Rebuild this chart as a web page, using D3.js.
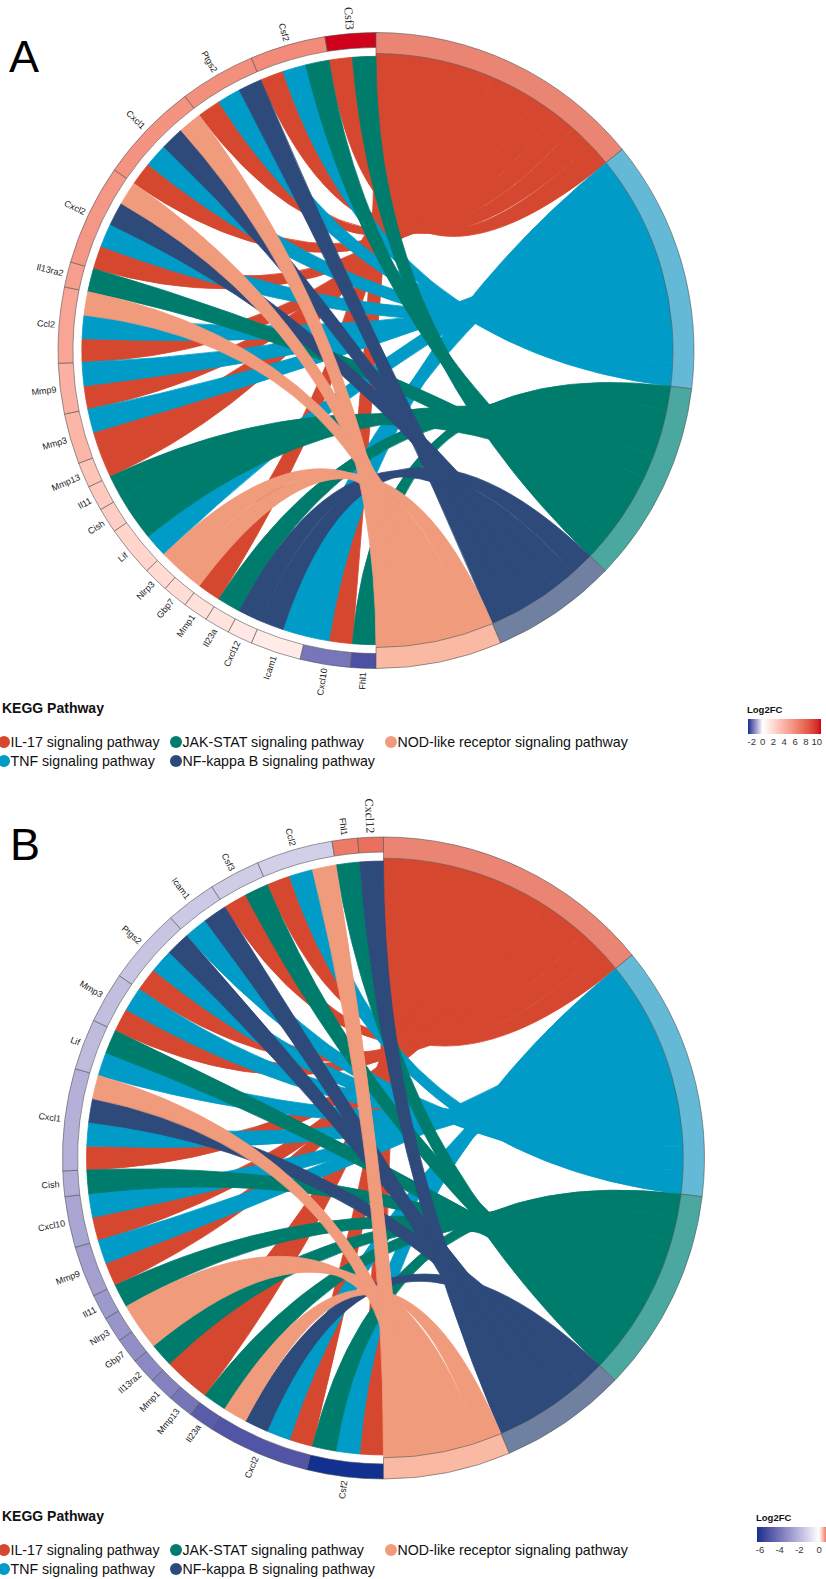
<!DOCTYPE html>
<html>
<head>
<meta charset="utf-8">
<script src="https://cdn.jsdelivr.net/npm/d3@7"></script>
<style>
  body { margin: 0; background: #fff; }
  svg { display: block; }
</style>
</head>
<body>
<svg id="chart" width="826" height="1579"></svg>
<script>
// ---- data ----------------------------------------------------------------
const pathways = [
  "IL-17 signaling pathway",
  "TNF signaling pathway",
  "JAK-STAT signaling pathway",
  "NF-kappa B signaling pathway",
  "NOD-like receptor signaling pathway"
];
const pathwayColors = ["#D5472E", "#009CC7", "#007C6D", "#2E4A7B", "#F09B7B"];
const pathwayRingColors = ["#EA8574", "#63B9D6", "#4AA8A0", "#7080A0", "#F9B9A2"];

// genes annotated to each pathway
const il17Genes = ["Cxcl10", "Mmp1", "Mmp13", "Mmp3", "Mmp9", "Ccl2", "Cxcl2", "Cxcl1", "Ptgs2", "Csf2", "Csf3"];
const tnfGenes  = ["Cxcl10", "Icam1", "Lif", "Mmp3", "Mmp9", "Ccl2", "Cxcl2", "Cxcl1", "Ptgs2", "Csf2"];
const jakGenes  = ["Fhl1", "Il23a", "Lif", "Cish", "Il11", "Il13ra2", "Csf2", "Csf3"];
const nfkbGenes = ["Icam1", "Cxcl12", "Cxcl2", "Cxcl1", "Ptgs2"];
const nodGenes  = ["Gbp7", "Nlrp3", "Ccl2", "Cxcl2", "Cxcl1"];
const pathwayGenes = [il17Genes, tnfGenes, jakGenes, nfkbGenes, nodGenes];

// panel A (clockwise from the bottom of the circle)
const genesA = ["Fhl1", "Cxcl10", "Icam1", "Cxcl12", "Il23a", "Mmp1", "Gbp7", "Nlrp3", "Lif", "Cish",
  "Il11", "Mmp13", "Mmp3", "Mmp9", "Ccl2", "Il13ra2", "Cxcl2", "Cxcl1", "Ptgs2", "Csf2", "Csf3"];
const log2fcA = [-2.2, -1.7, 1.0, 1.2, 1.4, 1.6, 1.8, 1.9, 2.2, 2.6,
  2.8, 3.1, 3.8, 4.1, 4.7, 5.0, 5.4, 5.6, 5.8, 6.0, 10.8];
const fcDomainA = [-2.7, 0, 10.8];
const ticksA = [-2, 0, 2, 4, 6, 8, 10];

// panel B
const genesB = ["Csf2", "Cxcl2", "Il23a", "Mmp13", "Mmp1", "Il13ra2", "Gbp7", "Nlrp3", "Il11", "Mmp9",
  "Cxcl10", "Cish", "Cxcl1", "Lif", "Mmp3", "Ptgs2", "Icam1", "Csf3", "Ccl2", "Fhl1", "Cxcl12"];
const log2fcB = [-6.3, -5.0, -4.8, -4.0, -3.6, -3.4, -3.2, -3.0, -2.9, -2.7,
  -2.5, -2.3, -2.2, -1.9, -1.8, -1.6, -1.5, -1.4, -1.3, 0.7, 0.75];
const fcDomainB = [-6.3, 0, 1.1];
const ticksB = [-6, -4, -2, 0];

// ---- drawing -------------------------------------------------------------
const svg = d3.select("#chart");
svg.append("rect").attr("width", 826).attr("height", 1579).attr("fill", "#fff");
const defs = svg.append("defs");

function drawPanel(cfg) {
  const { genes, fc, fcDomain, ticks, cx, cy, R, letter, letterX, letterY, legendTop, barX, id } = cfg;

  const color = d3.scaleLinear()
    .domain(fcDomain)
    .range(["#12308F", "#FFFFFF", "#D0021B"])
    .interpolate(d3.interpolateLab);

  const member = genes.map(g => pathways.map((p, i) => i).filter(i => pathwayGenes[i].includes(g)));
  const total = d3.sum(member, m => m.length);
  const unit = d3.scaleLinear().domain([0, total]).range([0, Math.PI]);

  // gene sectors occupy the left half, pathways the right half
  let u = 0;
  const geneArcs = genes.map((g, i) => {
    const s = u; u += member[i].length;
    return { gene: g, i, s, e: u };
  });
  const links = [];
  geneArcs.forEach(ga => member[ga.i].forEach((p, k) => links.push({ gene: ga.i, p, gu: ga.s + k })));

  // inside a pathway sector, links follow the gene order around the circle
  let pu = 0;
  const pathArcs = pathways.map((name, i) => {
    const ls = links.filter(l => l.p === i).sort((a, b) => a.gu - b.gu);
    const s = pu;
    ls.forEach((l, k) => { l.pu = s + k; });
    pu += ls.length;
    return { i, s, e: pu };
  });

  const rOut = R, geneIn = R * 0.953, geneChord = R * 0.925, pathIn = R * 0.934;
  const g = svg.append("g").attr("transform", `translate(${cx},${cy})`);

  // chords
  const ribbon = d3.ribbon().radius(d => d.radius);
  const ordered = links.slice().sort((a, b) => a.p - b.p || a.gu - b.gu);
  g.append("g").selectAll("path").data(ordered).join("path")
    .attr("d", l => ribbon({
      source: { startAngle: Math.PI + unit(l.gu), endAngle: Math.PI + unit(l.gu + 1), radius: geneChord },
      target: { startAngle: unit(l.pu), endAngle: unit(l.pu + 1), radius: pathIn }
    }))
    .attr("fill", l => pathwayColors[l.p])
    .attr("stroke", l => pathwayColors[l.p])
    .attr("stroke-width", 0.8)
    .attr("stroke-linejoin", "round");

  // outer rings
  const geneArc = d3.arc().innerRadius(geneIn).outerRadius(rOut);
  g.append("g").selectAll("path").data(geneArcs).join("path")
    .attr("d", d => geneArc({ startAngle: Math.PI + unit(d.s), endAngle: Math.PI + unit(d.e) }))
    .attr("fill", d => color(fc[d.i]))
    .attr("stroke", "#555").attr("stroke-width", 0.6);

  const pathArc = d3.arc().innerRadius(pathIn).outerRadius(rOut);
  g.append("g").selectAll("path").data(pathArcs).join("path")
    .attr("d", d => pathArc({ startAngle: unit(d.s), endAngle: unit(d.e) }))
    .attr("fill", d => pathwayRingColors[d.i])
    .attr("stroke", "#555").attr("stroke-width", 0.6);

  // gene labels, radial, reading towards the centre
  g.append("g").selectAll("text").data(geneArcs).join("text")
    .attr("transform", d => {
      const m = Math.PI + unit((d.s + d.e) / 2);
      const r = rOut + 4;
      const deg = m * 180 / Math.PI;
      return `translate(${r * Math.sin(m)},${-r * Math.cos(m)}) rotate(${deg - 270})`;
    })
    .attr("text-anchor", "end")
    .attr("dominant-baseline", "central")
    .attr("font-family", (d, i) => i === genes.length - 1 ? "Liberation Serif, serif" : "Liberation Sans, Arial, sans-serif")
    .attr("font-size", (d, i) => i === genes.length - 1 ? 12 : 9)
    .attr("fill", "#222")
    .text(d => d.gene);

  // panel letter
  svg.append("text").attr("x", letterX).attr("y", letterY)
    .attr("font-family", "Liberation Sans, Arial, sans-serif").attr("font-size", 45)
    .attr("fill", "#000").text(letter);

  // pathway legend
  const lg = svg.append("g").attr("font-family", "Liberation Sans, Arial, sans-serif");
  lg.append("text").attr("x", 2).attr("y", legendTop + 5)
    .attr("font-size", 14).attr("font-weight", "bold").attr("fill", "#111").text("KEGG Pathway");
  const items = [
    { p: 0, x: 4, row: 0 }, { p: 2, x: 176, row: 0 }, { p: 4, x: 391, row: 0 },
    { p: 1, x: 4, row: 1 }, { p: 3, x: 176, row: 1 }
  ];
  items.forEach(it => {
    const yc = legendTop + 34 + it.row * 19;
    lg.append("circle").attr("cx", it.x).attr("cy", yc).attr("r", 6).attr("fill", pathwayColors[it.p]);
    lg.append("text").attr("x", it.x + 6.5).attr("y", yc).attr("dominant-baseline", "central")
      .attr("font-size", 14.2).attr("fill", "#111").text(pathways[it.p]);
  });

  // log2FC colour bar
  const bw = 73;
  const bx = d3.scaleLinear().domain([fcDomain[0], fcDomain[2]]).range([barX, barX + bw]);
  const grad = defs.append("linearGradient").attr("id", "fc" + id)
    .attr("x1", 0).attr("x2", 1).attr("y1", 0).attr("y2", 0);
  d3.range(0, 1.0001, 0.05).forEach(t => {
    const v = fcDomain[0] + t * (fcDomain[2] - fcDomain[0]);
    grad.append("stop").attr("offset", t).attr("stop-color", color(v));
  });
  const cb = svg.append("g").attr("font-family", "Liberation Sans, Arial, sans-serif");
  cb.append("text").attr("x", barX - 1).attr("y", legendTop + 5)
    .attr("font-size", 9.5).attr("font-weight", "bold").attr("fill", "#111").text("Log2FC");
  cb.append("rect").attr("x", barX).attr("y", legendTop + 11).attr("width", bw).attr("height", 15)
    .attr("fill", `url(#fc${id})`);
  cb.selectAll("text.tick").data(ticks).join("text").attr("class", "tick")
    .attr("x", d => bx(d)).attr("y", legendTop + 37)
    .attr("text-anchor", "middle").attr("font-size", 9.5).attr("fill", "#333")
    .text(d => d);
}

drawPanel({
  id: "A", genes: genesA, fc: log2fcA, fcDomain: fcDomainA, ticks: ticksA,
  cx: 376, cy: 350.5, R: 318, letter: "A", letterX: 9, letterY: 72,
  legendTop: 708, barX: 748
});
drawPanel({
  id: "B", genes: genesB, fc: log2fcB, fcDomain: fcDomainB, ticks: ticksB,
  cx: 383.5, cy: 1158, R: 321, letter: "B", letterX: 10, letterY: 860,
  legendTop: 1516, barX: 757
});
</script>
</body>
</html>
